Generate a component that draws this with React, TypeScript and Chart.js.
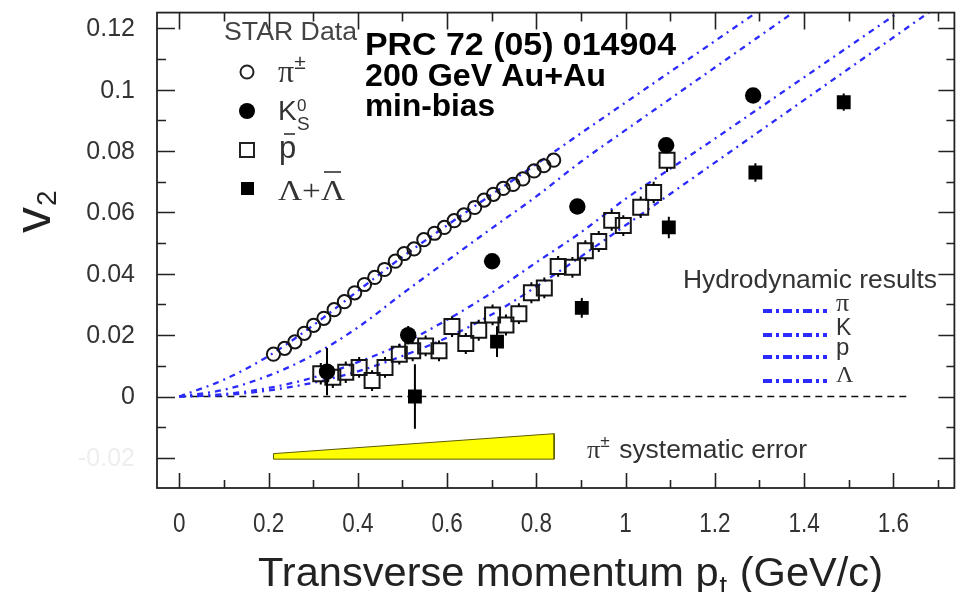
import React, { useEffect, useRef } from "react";
import { Chart, registerables } from "chart.js";

Chart.register(...registerables);

const W = 967;
const H = 592;

// STAR Au+Au 200 GeV minimum-bias elliptic flow v2(pt)
const pionPt = [0.211, 0.236, 0.259, 0.28, 0.301, 0.324, 0.347, 0.37, 0.393, 0.415, 0.438, 0.46, 0.484, 0.504, 0.526, 0.548, 0.572, 0.594, 0.616, 0.638, 0.662, 0.683, 0.704, 0.726, 0.748, 0.77, 0.795, 0.817, 0.839];
const pionV2 = [0.0138, 0.0157, 0.0178, 0.0206, 0.0232, 0.0255, 0.0283, 0.0309, 0.0338, 0.0365, 0.0388, 0.0414, 0.0441, 0.0466, 0.0481, 0.0511, 0.0532, 0.0551, 0.0573, 0.0592, 0.0616, 0.064, 0.0659, 0.0678, 0.0691, 0.0709, 0.0735, 0.0752, 0.077];

const kaonPt = [0.331, 0.513, 0.701, 0.892, 1.091, 1.286];
const kaonV2 = [0.0081, 0.02, 0.0441, 0.0619, 0.0819, 0.0981];
const kaonErr = [0.0077, 0.003, 0.0015, 0.0015, 0.0018, 0.002];

const pbarPt = [0.317, 0.344, 0.373, 0.403, 0.432, 0.461, 0.493, 0.523, 0.552, 0.582, 0.611, 0.642, 0.671, 0.702, 0.732, 0.761, 0.789, 0.818, 0.849, 0.881, 0.91, 0.94, 0.969, 0.995, 1.034, 1.063, 1.093];
const pbarV2 = [0.0074, 0.0063, 0.0079, 0.0095, 0.0052, 0.0095, 0.0138, 0.0149, 0.0165, 0.0149, 0.0228, 0.0173, 0.0216, 0.0266, 0.0233, 0.027, 0.0338, 0.0354, 0.0424, 0.0421, 0.0475, 0.0505, 0.0574, 0.0557, 0.0617, 0.0665, 0.077];
const pbarErr = [0.0035, 0.0035, 0.0035, 0.0034, 0.0034, 0.0034, 0.0034, 0.0034, 0.0034, 0.0034, 0.0034, 0.0034, 0.0034, 0.0034, 0.0034, 0.0034, 0.0034, 0.0034, 0.0034, 0.0034, 0.0034, 0.0034, 0.0034, 0.0034, 0.0035, 0.0035, 0.0038];

const lambdaPt = [0.528, 0.712, 0.902, 1.097, 1.291, 1.489];
const lambdaV2 = [0.0, 0.0179, 0.0289, 0.0551, 0.073, 0.0959];
const lambdaErr = [0.0105, 0.005, 0.0032, 0.0035, 0.003, 0.0028];

// hydrodynamic calculations
const hydroPiPt = [0, 0.1, 0.2, 0.3, 0.4, 0.5, 0.6, 0.7, 0.8, 0.9, 1.0, 1.1, 1.2, 1.3];
const hydroPiV2 = [0, 0.0055, 0.0132, 0.0232, 0.0344, 0.0455, 0.0558, 0.0658, 0.0757, 0.0858, 0.0958, 0.1058, 0.1158, 0.1258];
const hydroKPt = [0, 0.1, 0.2, 0.3, 0.4, 0.5, 0.6, 0.7, 0.8, 0.9, 1.0, 1.1, 1.2, 1.3, 1.4];
const hydroKV2 = [0, 0.0022, 0.0068, 0.0135, 0.0225, 0.0335, 0.0442, 0.0548, 0.0652, 0.0765, 0.0868, 0.097, 0.1072, 0.1174, 0.1276];
const hydroPPt = [0, 0.1, 0.2, 0.3, 0.4, 0.5, 0.6, 0.7, 0.8, 0.9, 1.0, 1.1, 1.2, 1.3, 1.4, 1.5, 1.6, 1.7];
const hydroPV2 = [0, 0.0008, 0.0028, 0.0062, 0.0112, 0.0172, 0.025, 0.0338, 0.0437, 0.0535, 0.0644, 0.0742, 0.084, 0.094, 0.104, 0.114, 0.124, 0.134];
const hydroLPt = [0, 0.1, 0.2, 0.3, 0.4, 0.5, 0.6, 0.7, 0.8, 0.9, 1.0, 1.1, 1.2, 1.3, 1.4, 1.5, 1.6, 1.7];
const hydroLV2 = [0, 0.0005, 0.002, 0.0045, 0.0082, 0.0132, 0.0192, 0.0267, 0.0358, 0.0456, 0.0558, 0.066, 0.0762, 0.0864, 0.0966, 0.1068, 0.117, 0.1272];

// pion systematic error band
const sysPt = [0.211, 0.84];
const sysLow = [-0.0204, -0.0204];
const sysHigh = [-0.0186, -0.0121];

const zeroLinePt = [0, 1.635];

const xTickValues = [0, 0.1, 0.2, 0.3, 0.4, 0.5, 0.6, 0.7, 0.8, 0.9, 1.0, 1.1, 1.2, 1.3, 1.4, 1.5, 1.6, 1.7];
const xTickLabels = ["0", "", "0.2", "", "0.4", "", "0.6", "", "0.8", "", "1", "", "1.2", "", "1.4", "", "1.6", ""];
const yTickValues = [-0.02, -0.01, 0, 0.01, 0.02, 0.03, 0.04, 0.05, 0.06, 0.07, 0.08, 0.09, 0.1, 0.11, 0.12];
const yTickLabels = ["-0.02", "", "0", "", "0.02", "", "0.04", "", "0.06", "", "0.08", "", "0.1", "", "0.12"];

const SANS = "'Liberation Sans', Arial, sans-serif";
const SERIF = "'Liberation Serif', 'Times New Roman', serif";
const HYDRO_BLUE = "#2b2bff";

const toXY = (xs: number[], ys: number[]) => xs.map((x, i) => ({ x, y: ys[i] }));

type Seg = { t: string; f: string; dx?: number; dy?: number; adv?: boolean };

function drawRich(ctx: CanvasRenderingContext2D, x: number, y: number, segs: Seg[], color: string, width?: number, sy = 1) {
  ctx.save();
  ctx.fillStyle = color;
  ctx.textAlign = "left";
  ctx.textBaseline = "alphabetic";
  let total = 0;
  for (const s of segs) {
    ctx.font = s.f;
    const w = ctx.measureText(s.t).width;
    if (s.adv !== false) total += w + (s.dx || 0);
  }
  const sx = width ? width / total : 1;
  ctx.translate(x, y);
  ctx.scale(sx, sy);
  let cx = 0;
  for (const s of segs) {
    ctx.font = s.f;
    const w = ctx.measureText(s.t).width;
    const px = cx + (s.dx || 0);
    ctx.fillText(s.t, px, s.dy || 0);
    if (s.adv !== false) cx = px + w;
  }
  ctx.restore();
}

const errorBars = {
  id: "errorBars",
  afterDatasetsDraw(chart: any) {
    const ctx = chart.ctx as CanvasRenderingContext2D;
    const xs = chart.scales.x;
    const ys = chart.scales.y;
    chart.data.datasets.forEach((ds: any, di: number) => {
      if (!ds.yErr) return;
      const meta = chart.getDatasetMeta(di);
      if (meta.hidden) return;
      ctx.save();
      ctx.strokeStyle = "#000";
      ctx.lineWidth = 2;
      ds.data.forEach((p: any, i: number) => {
        const px = xs.getPixelForValue(p.x);
        const py = ys.getPixelForValue(p.y);
        const top = ys.getPixelForValue(p.y + ds.yErr[i]);
        const bot = ys.getPixelForValue(p.y - ds.yErr[i]);
        const half = ds.errGap || 0;
        ctx.beginPath();
        if (top < py - half) {
          ctx.moveTo(px, py - half);
          ctx.lineTo(px, top);
        }
        if (bot > py + half) {
          ctx.moveTo(px, py + half);
          ctx.lineTo(px, bot);
        }
        ctx.stroke();
      });
      ctx.restore();
    });
  },
};

const frameAndText = {
  id: "frameAndText",
  afterDraw(chart: any) {
    const ctx = chart.ctx as CanvasRenderingContext2D;
    const { left, right, top, bottom } = chart.chartArea;
    const xs = chart.scales.x;
    const ys = chart.scales.y;
    ctx.save();

    // frame
    ctx.strokeStyle = "#222";
    ctx.lineWidth = 1.8;
    ctx.strokeRect(left, top, right - left, bottom - top);

    // tick marks
    ctx.lineWidth = 1.6;
    ctx.beginPath();
    xTickValues.forEach((v, i) => {
      const px = Math.round(xs.getPixelForValue(v)) + 0.5;
      const major = xTickLabels[i] !== "";
      ctx.moveTo(px, bottom);
      ctx.lineTo(px, bottom - (major ? 15 : 8));
      ctx.moveTo(px, top);
      ctx.lineTo(px, top + (major ? 17 : 9));
    });
    yTickValues.forEach((v, i) => {
      const py = Math.round(ys.getPixelForValue(v)) + 0.5;
      const major = yTickLabels[i] !== "";
      ctx.moveTo(left, py);
      ctx.lineTo(left + (major ? 18 : 9), py);
      ctx.moveTo(right, py);
      ctx.lineTo(right - (major ? 16 : 8), py);
    });
    ctx.stroke();

    // tick labels
    xTickValues.forEach((v, i) => {
      if (!xTickLabels[i]) return;
      ctx.font = `25px ${SANS}`;
      const w = ctx.measureText(xTickLabels[i]).width * 0.9;
      drawRich(ctx, xs.getPixelForValue(v) - w / 2, 532, [{ t: xTickLabels[i], f: `25px ${SANS}` }], "#333", w, 1.08);
    });
    ctx.font = `25px ${SANS}`;
    ctx.textBaseline = "middle";
    ctx.textAlign = "right";
    yTickValues.forEach((v, i) => {
      if (!yTickLabels[i]) return;
      ctx.fillStyle = v < 0 ? "#eeeeee" : "#333";
      ctx.fillText(yTickLabels[i], 135, ys.getPixelForValue(v) + 1);
    });

    // axis titles
    drawRich(ctx, 258, 586, [
      { t: "Transverse momentum p", f: `41px ${SANS}` },
      { t: "t", f: `27px ${SANS}`, dy: 9, dx: 1 },
      { t: " (GeV/c)", f: `41px ${SANS}`, dx: 1 },
    ], "#222", 625);

    ctx.save();
    ctx.translate(50, 233);
    ctx.rotate(-Math.PI / 2);
    drawRich(ctx, 0, 0, [
      { t: "v", f: `52px ${SANS}` },
      { t: "2", f: `28px ${SANS}`, dy: 6, dx: 1 },
    ], "#222");
    ctx.restore();

    // data legend
    drawRich(ctx, 224, 40, [{ t: "STAR Data", f: `26px ${SANS}` }], "#444", 133);
    ctx.strokeStyle = "#222";
    ctx.fillStyle = "#000";
    ctx.lineWidth = 2;
    ctx.beginPath();
    ctx.arc(247, 72, 6.5, 0, Math.PI * 2);
    ctx.stroke();
    ctx.beginPath();
    ctx.arc(247, 111, 8, 0, Math.PI * 2);
    ctx.fill();
    ctx.lineWidth = 2;
    ctx.strokeRect(240, 143, 14, 14);
    ctx.fillRect(241, 182, 13, 13);

    drawRich(ctx, 278, 82, [
      { t: "π", f: `32px ${SERIF}` },
      { t: "±", f: `21px ${SANS}`, dy: -13, dx: 0 },
    ], "#333");
    drawRich(ctx, 278, 120, [{ t: "K", f: `28px ${SANS}` }], "#333");
    drawRich(ctx, 297, 111, [{ t: "0", f: `17px ${SANS}` }], "#333");
    drawRich(ctx, 297, 130, [{ t: "S", f: `19px ${SANS}` }], "#333");
    drawRich(ctx, 279, 158, [{ t: "p", f: `31px ${SANS}` }], "#333");
    ctx.strokeStyle = "#333";
    ctx.lineWidth = 1.6;
    ctx.beginPath();
    ctx.moveTo(284, 134);
    ctx.lineTo(295, 134);
    ctx.stroke();
    drawRich(ctx, 278, 200, [{ t: "Λ+Λ", f: `29px ${SERIF}` }], "#333", 67);
    ctx.beginPath();
    ctx.moveTo(324, 172);
    ctx.lineTo(341, 172);
    ctx.stroke();

    // publication annotation
    drawRich(ctx, 365, 55, [{ t: "PRC 72 (05) 014904", f: `bold 32px ${SANS}` }], "#000", 311);
    drawRich(ctx, 365, 86, [{ t: "200 GeV Au+Au", f: `bold 32px ${SANS}` }], "#000", 241);
    drawRich(ctx, 365, 116, [{ t: "min-bias", f: `bold 32px ${SANS}` }], "#000", 130);

    // hydro legend
    drawRich(ctx, 683, 288, [{ t: "Hydrodynamic results", f: `26px ${SANS}` }], "#333", 254);
    const hydroRows = [
      { y: 311, label: "π", f: `26px ${SERIF}`, by: 311 },
      { y: 335, label: "K", f: `23px ${SANS}`, by: 335 },
      { y: 357, label: "p", f: `24px ${SANS}`, by: 355 },
      { y: 381, label: "Λ", f: `24px ${SERIF}`, by: 382 },
    ];
    ctx.strokeStyle = HYDRO_BLUE;
    ctx.lineWidth = 4;
    ctx.setLineDash([9, 4, 3, 4]);
    hydroRows.forEach((r) => {
      ctx.beginPath();
      ctx.moveTo(763, r.y);
      ctx.lineTo(827, r.y);
      ctx.stroke();
    });
    ctx.setLineDash([]);
    hydroRows.forEach((r) => drawRich(ctx, 836, r.by, [{ t: r.label, f: r.f }], "#333"));

    // systematic error label
    drawRich(ctx, 587, 458, [
      { t: "π", f: `26px ${SERIF}` },
      { t: "±", f: `17px ${SANS}`, dy: -11 },
      { t: " systematic error", f: `26px ${SANS}`, dx: 2 },
    ], "#333", 220);

    ctx.restore();
  },
};

export default function App() {
  const canvasRef = useRef<HTMLCanvasElement | null>(null);

  useEffect(() => {
    const canvas = canvasRef.current;
    if (!canvas) return;

    const band = [
      { x: sysPt[0], y: sysLow[0] },
      { x: sysPt[0], y: sysHigh[0] },
      { x: sysPt[1], y: sysHigh[1] },
      { x: sysPt[1], y: sysLow[1] },
      { x: sysPt[0], y: sysLow[0] },
    ];

    const hydroLine = (xs: number[], ys: number[], label: string) => ({
      type: "line" as const,
      label,
      data: toXY(xs, ys),
      borderColor: HYDRO_BLUE,
      borderWidth: 2.3,
      borderDash: [6, 5, 2, 5],
      pointRadius: 0,
      fill: false,
      cubicInterpolationMode: "monotone" as const,
      order: 5,
    });

    const chart = new Chart(canvas, {
      type: "scatter",
      data: {
        datasets: [
          {
            label: "π±",
            data: toXY(pionPt, pionV2),
            pointStyle: "circle",
            pointRadius: 6.6,
            pointBorderWidth: 2,
            borderWidth: 2,
            borderColor: "#151515",
            backgroundColor: "rgba(0,0,0,0)",
            order: 1,
          },
          {
            label: "K0S",
            data: toXY(kaonPt, kaonV2),
            yErr: kaonErr,
            errGap: 0,
            pointStyle: "circle",
            pointRadius: 8.2,
            pointBorderWidth: 0,
            borderWidth: 0,
            borderColor: "#000",
            backgroundColor: "#000",
            order: 1,
          } as any,
          {
            label: "pbar",
            data: toXY(pbarPt, pbarV2),
            yErr: pbarErr,
            errGap: 7.5,
            pointStyle: "rect",
            pointRadius: 10.6,
            pointBorderWidth: 2,
            borderWidth: 2,
            borderColor: "#151515",
            backgroundColor: "rgba(0,0,0,0)",
            order: 1,
          } as any,
          {
            label: "Λ+anti-Λ",
            data: toXY(lambdaPt, lambdaV2),
            yErr: lambdaErr,
            errGap: 0,
            pointStyle: "rect",
            pointRadius: 9.8,
            pointBorderWidth: 0,
            borderWidth: 0,
            borderColor: "#000",
            backgroundColor: "#000",
            order: 1,
          } as any,
          hydroLine(hydroPiPt, hydroPiV2, "hydro π"),
          hydroLine(hydroKPt, hydroKV2, "hydro K"),
          hydroLine(hydroPPt, hydroPV2, "hydro p"),
          hydroLine(hydroLPt, hydroLV2, "hydro Λ"),
          {
            type: "line",
            label: "zero",
            data: zeroLinePt.map((x) => ({ x, y: 0 })),
            borderColor: "#111",
            borderWidth: 1.5,
            borderDash: [7, 5],
            pointRadius: 0,
            fill: false,
            order: 6,
          },
          {
            type: "line",
            label: "π± systematic error",
            data: band,
            borderColor: "#5a5a00",
            borderWidth: 1,
            backgroundColor: "#ffff00",
            pointRadius: 0,
            fill: "shape",
            tension: 0,
            order: 7,
          } as any,
        ],
      },
      options: {
        animation: false,
        responsive: false,
        devicePixelRatio: 1,
        layout: { padding: { left: 157, right: 1, top: 10, bottom: 104 } },
        plugins: { legend: { display: false }, tooltip: { enabled: false } },
        scales: {
          x: { type: "linear", min: -0.05, max: 1.737, display: false },
          y: { type: "linear", min: -0.0298, max: 0.1251, display: false },
        },
      },
      plugins: [errorBars, frameAndText],
    });

    return () => chart.destroy();
  }, []);

  return (
    <div style={{ position: "absolute", left: 0, top: 0, width: W, height: H, background: "#fff" }}>
      <canvas ref={canvasRef} width={W} height={H} style={{ width: W, height: H, display: "block" }} />
    </div>
  );
}
